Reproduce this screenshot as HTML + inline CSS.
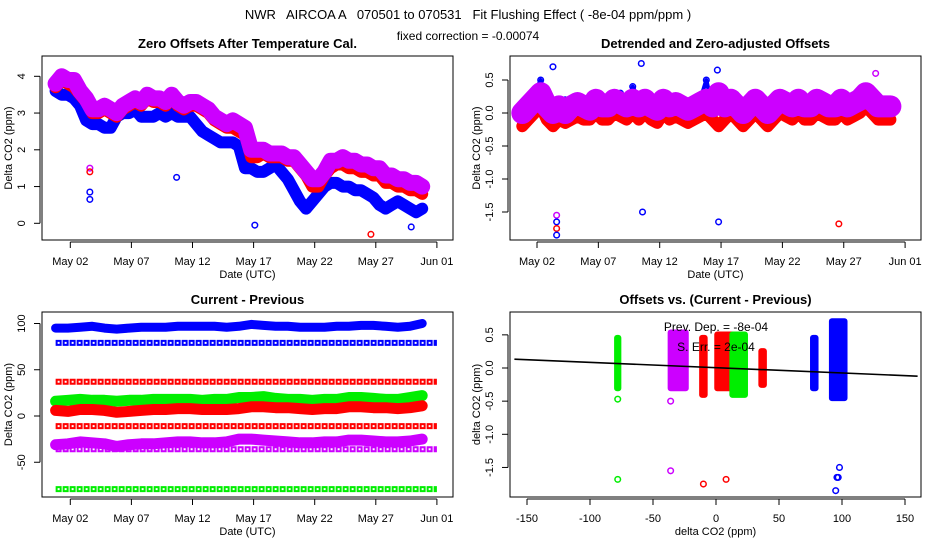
<!DOCTYPE html>
<html><head><meta charset="utf-8">
<style>
html,body{margin:0;padding:0;background:#fff;}
svg{display:block;font-family:"Liberation Sans",sans-serif;}
</style></head>
<body>
<svg id="c" width="936" height="540" viewBox="0 0 936 540" xmlns="http://www.w3.org/2000/svg">
<text x="468" y="19" text-anchor="middle" font-size="13" xml:space="preserve">NWR   AIRCOA A   070501 to 070531   Fit Flushing Effect ( -8e-04 ppm/ppm )</text>
<text x="468" y="40" text-anchor="middle" font-size="12">fixed correction = -0.00074</text>
</svg>
<script>
// ---------- data (t = days since May 1 00:00 UTC, half-day steps) ----------
const dateTicks = [1,6,11,16,21,26,31];
const dateLabels = ["May 02","May 07","May 12","May 17","May 22","May 27","Jun 01"];

// Panel 1: zero offsets after temperature cal.
const p1Purple = [3.8,4.0,3.9,3.9,3.6,3.4,3.1,3.1,3.2,3.1,3.0,3.2,3.3,3.4,3.3,3.5,3.4,3.4,3.3,3.5,3.3,3.2,3.3,3.3,3.2,3.1,2.9,2.8,2.7,2.8,2.7,2.6,2.0,2.0,2.0,1.9,1.9,1.9,1.8,1.8,1.6,1.4,1.2,1.2,1.4,1.7,1.7,1.8,1.7,1.7,1.6,1.6,1.5,1.5,1.3,1.3,1.2,1.2,1.1,1.1,1.0];
const p1Red = [3.7,3.9,3.8,3.7,3.5,3.3,3.0,3.0,3.1,3.0,2.9,3.1,3.2,3.3,3.2,3.4,3.3,3.3,3.2,3.4,3.2,3.1,3.2,3.2,3.1,3.0,2.8,2.7,2.6,2.6,2.5,2.4,1.8,1.8,1.9,1.8,1.8,1.8,1.7,1.7,1.5,1.3,1.0,1.0,1.3,1.5,1.6,1.6,1.5,1.5,1.4,1.4,1.3,1.3,1.1,1.1,1.0,1.0,0.9,0.9,0.8];
const p1Blue = [3.6,3.5,3.5,3.4,3.2,2.8,2.7,2.7,2.6,2.6,2.9,3.0,3.0,3.1,2.9,2.9,2.9,3.0,2.9,3.0,2.9,2.9,2.9,2.7,2.5,2.4,2.3,2.2,2.2,2.2,2.1,1.5,1.5,1.4,1.4,1.5,1.6,1.4,1.2,0.9,0.6,0.4,0.6,0.8,1.0,1.1,1.1,1.0,1.0,0.9,0.9,0.8,0.7,0.5,0.4,0.5,0.6,0.5,0.4,0.3,0.4];
const p1OutT = [2.6,2.6,2.6,2.6,9.7,16.1,25.6,28.9];
const p1OutV = [1.5,1.4,0.85,0.65,1.25,-0.05,-0.3,-0.1];
const p1OutC = ["#cc00ff","red","blue","blue","blue","blue","red","blue"];

// Panel 2: detrended and zero-adjusted offsets
const p2Purple = [0.0,0.1,0.2,0.3,0.1,0.0,0.1,0.0,0.1,0.15,0.1,0.05,0.2,0.1,0.1,0.2,0.15,0.1,0.2,0.1,0.2,0.1,0.05,0.2,0.1,0.15,0.1,0.05,0.1,0.15,0.2,0.1,0.3,0.1,0.2,0.1,0.0,0.1,0.2,0.1,0.0,0.1,0.2,0.15,0.1,0.2,0.1,0.1,0.2,0.15,0.1,0.1,0.2,0.1,0.15,0.2,0.3,0.2,0.1,0.1,0.1];
const p2Red = [-0.2,-0.1,0.0,0.1,-0.1,-0.2,-0.1,-0.15,-0.1,-0.05,-0.1,-0.1,0.0,-0.1,-0.1,0.0,-0.05,-0.1,0.0,-0.1,0.0,-0.1,-0.15,0.0,-0.1,-0.05,-0.1,-0.15,-0.1,-0.05,0.0,-0.1,-0.2,-0.1,0.0,-0.1,-0.2,-0.1,0.0,-0.1,-0.2,-0.1,0.0,-0.05,-0.1,0.0,-0.1,-0.1,0.0,-0.05,-0.1,-0.1,0.0,-0.1,-0.05,0.0,0.1,0.0,-0.1,-0.1,-0.1];
const p2Blue = [0.1,0.0,0.3,0.5,0.2,-0.1,0.1,0.2,0.0,0.1,0.2,0.0,0.3,0.1,0.0,0.2,0.3,0.0,0.4,0.2,0.3,0.1,0.0,0.3,0.1,0.2,0.0,-0.1,0.1,0.2,0.5,0.1,0.3,0.0,0.2,0.1,-0.1,0.2,0.3,0.0,-0.1,0.1,0.3,0.2,0.1,0.3,0.0,0.1,0.3,0.2,0.0,0.1,0.3,0.1,0.2,0.3,0.4,0.3,0.0,0.1,0.0];
const p2OutT = [2.6,2.6,2.6,2.6,9.6,15.8,25.6,2.3,9.5,15.7,28.6];
const p2OutV = [-1.55,-1.65,-1.75,-1.85,-1.5,-1.65,-1.68,0.7,0.75,0.65,0.6];
const p2OutC = ["#cc00ff","blue","red","blue","blue","blue","red","blue","blue","blue","#cc00ff"];

// Panel 3: current - previous (ppm), daily levels
const p3Blue = [95,95,96,97,95,94,95,96,96,96,97,97,97,97,96,97,99,98,97,97,96,96,96,97,97,98,98,97,96,97,100];
const p3Green = [16,17,18,17,17,16,17,17,18,18,18,18,17,18,18,20,20,21,19,18,18,17,18,18,20,20,19,18,18,20,22];
const p3Red = [6,5,7,7,6,4,5,6,7,7,8,8,7,7,7,8,10,10,9,9,8,7,8,8,10,10,9,9,8,9,11];
const p3Purple = [-31,-30,-28,-29,-30,-33,-31,-30,-30,-29,-28,-28,-29,-29,-28,-25,-25,-26,-27,-28,-29,-29,-28,-28,-26,-26,-27,-28,-28,-27,-25];
const p3Rows = [79,37,-11,-36,-79];
const p3RowStart = [-0.2,-0.2,-0.2,-0.2,-0.2];
const p3RowColor = ["blue","red","red","#cc00ff","#00ee00"];

// Panel 4: offsets vs (current - previous)
const p4ClusterX = [-78,-30,-10,7,18,37,78,97];
const p4ClusterLo = [-0.35,-0.35,-0.45,-0.35,-0.45,-0.3,-0.35,-0.5];
const p4ClusterHi = [0.5,0.58,0.5,0.55,0.55,0.3,0.5,0.75];
const p4ClusterW = [1,12,2,12,10,2,2,10];
const p4ClusterColor = ["#00ee00","#cc00ff","red","red","#00ee00","red","blue","blue"];
const p4OutX = [-78,-36,-36,-10,8,95,96,97,98,-78];
const p4OutV = [-1.68,-1.55,-0.5,-1.75,-1.68,-1.85,-1.65,-1.65,-1.5,-0.47];
const p4OutC = ["#00ee00","#cc00ff","#cc00ff","red","red","blue","blue","blue","blue","#00ee00"];
const fitSlope = -0.0008;
const fitIntercept = 0.005;

// ---------- drawing ----------
const svg = document.getElementById('c');
const NS = 'http://www.w3.org/2000/svg';
function mk(tag, attrs, parent){const e=document.createElementNS(NS,tag);for(const k in attrs)e.setAttribute(k,attrs[k]);(parent||svg).appendChild(e);return e;}

function panel(name, L,R,T,B, title, yTicks, yLabels, yFn, xTicks, xLabels, xFn, xTitle, yTitle){
  const g = mk('g',{});
  
  
  const t = mk('text',{x:(L+R)/2,y:T-8,'text-anchor':'middle','font-size':13,'font-weight':'bold'},g);
  t.textContent = title;
  
  
  const box = mk('rect',{x:L,y:T,width:R-L,height:B-T,fill:'none',stroke:'#000','stroke-width':1},g);
  
  
  const xa = mk('g',{},g);
  
  
  mk('line',{x1:xFn(xTicks[0]),x2:xFn(xTicks[xTicks.length-1]),y1:B+2,y2:B+2,stroke:'#000'},xa);
  xTicks.forEach((v,i)=>{
    const x=xFn(v);
    mk('line',{x1:x,x2:x,y1:B+2,y2:B+8,stroke:'#000'},xa);
    const l=mk('text',{x:x,y:B+25,'text-anchor':'middle','font-size':11},xa);
    l.textContent=xLabels[i];
    
    
  });
  const xt=mk('text',{x:(L+R)/2,y:B+38,'text-anchor':'middle','font-size':11},xa);
  xt.textContent=xTitle;
  
  
  const ya = mk('g',{},g);
  
  
  mk('line',{x1:L-2,x2:L-2,y1:yFn(yTicks[0]),y2:yFn(yTicks[yTicks.length-1]),stroke:'#000'},ya);
  yTicks.forEach((v,i)=>{
    const y=yFn(v);
    mk('line',{x1:L-8,x2:L-2,y1:y,y2:y,stroke:'#000'},ya);
    const l=mk('text',{x:L-17,y:y,'text-anchor':'middle','font-size':11,transform:`rotate(-90 ${L-17} ${y})`},ya);
    l.textContent=yLabels[i];
    
    
  });
  const yt=mk('text',{x:L-30,y:(T+B)/2,'text-anchor':'middle','font-size':11,transform:`rotate(-90 ${L-30} ${(T+B)/2})`},ya);
  yt.textContent=yTitle;
  
  
  const plot = mk('g',{},g);
  
  
  return plot;
}

function band(parent, arr, step, t0, xFn, yFn, color, width, name){
  const pts = arr.map((v,i)=>xFn(t0+i*step).toFixed(1)+','+yFn(v).toFixed(1)).join(' ');
  const pl = mk('polyline',{points:pts,fill:'none',stroke:color,'stroke-width':width,'stroke-linejoin':'round','stroke-linecap':'round'},parent);
  
  
  arr.forEach((v,i)=>{
    const c = mk('circle',{cx:xFn(t0+i*step),cy:yFn(v),r:2.8,fill:'none',stroke:color,'stroke-width':1.5},parent);
    
    
  });
}
function pts(parent, xs, vs, cs, xFn, yFn){
  xs.forEach((x,i)=>{
    const c = mk('circle',{cx:xFn(x),cy:yFn(vs[i]),r:2.8,fill:'none',stroke:cs[i],'stroke-width':1.5},parent);
    
    
  });
}

// Panel 1
const x1 = t => 70.3 + (t-1)*12.22;
const y1 = v => 223.3 - v*36.75;
const g1 = panel('zero-offsets-panel',42,453,56,240,'Zero Offsets After Temperature Cal.',[0,1,2,3,4],['0','1','2','3','4'],y1,dateTicks,dateLabels,x1,'Date (UTC)','Delta CO2 (ppm)');
band(g1,p1Blue,0.5,-0.2,x1,y1,'blue',12,'p1-blue');
band(g1,p1Red,0.5,-0.2,x1,y1,'red',12,'p1-red');
band(g1,p1Purple,0.5,-0.2,x1,y1,'#cc00ff',16,'p1-purple');
pts(g1,p1OutT,p1OutV,p1OutC,x1,y1);

// Panel 2
const x2 = t => 537 + (t-1)*12.27;
const y2 = v => 113 - v*66;
const g2 = panel('detrended-panel',510,921,56,240,'Detrended and Zero-adjusted Offsets',[-1.5,-1.0,-0.5,0.0,0.5],['-1.5','-1.0','-0.5','0.0','0.5'],y2,dateTicks,dateLabels,x2,'Date (UTC)','Delta CO2 (ppm)');
band(g2,p2Blue,0.5,-0.2,x2,y2,'blue',4,'p2-blue');
band(g2,p2Red,0.5,-0.2,x2,y2,'red',12,'p2-red');
band(g2,p2Purple,0.5,-0.2,x2,y2,'#cc00ff',22,'p2-purple');
pts(g2,p2OutT,p2OutV,p2OutC,x2,y2);

// Panel 3
const y3 = v => 416 - v*0.925;
const g3 = panel('current-minus-previous-panel',42,453,312,497,'Current - Previous',[-50,0,50,100],['-50','0','50','100'],y3,dateTicks,dateLabels,x1,'Date (UTC)','Delta CO2 (ppm)');
p3Rows.forEach((v,i)=>{
  const l = mk('line',{x1:x1(p3RowStart[i]),x2:x1(31),y1:y3(v),y2:y3(v),stroke:p3RowColor[i],'stroke-width':6,'stroke-dasharray':'6 1'},g3);
  
  
  const l2 = mk('line',{x1:x1(p3RowStart[i])+2,x2:x1(31)-2,y1:y3(v),y2:y3(v),stroke:'#fff','stroke-width':2,'stroke-dasharray':'2 5'},g3);
  
  
});
band(g3,p3Blue,1,-0.2,x1,y3,'blue',9,'p3-blue');
band(g3,p3Green,1,-0.2,x1,y3,'#00ee00',11,'p3-green');
band(g3,p3Red,1,-0.2,x1,y3,'red',11,'p3-red');
band(g3,p3Purple,1,-0.2,x1,y3,'#cc00ff',11,'p3-purple');

// Panel 4
const x4 = v => 716 + v*1.26;
const y4 = v => 368 - v*66.3;
const g4 = panel('offsets-vs-difference-panel',510,921,312,497,'Offsets vs. (Current - Previous)',[-1.5,-1.0,-0.5,0.0,0.5],['-1.5','-1.0','-0.5','0.0','0.5'],y4,[-150,-100,-50,0,50,100,150],['-150','-100','-50','0','50','100','150'],x4,'delta CO2 (ppm)','delta CO2 (ppm)');
p4ClusterX.forEach((v,i)=>{
  const w = p4ClusterW[i]*1.26+6;
  const r = mk('rect',{x:x4(v)-w/2,y:y4(p4ClusterHi[i]),width:w,height:y4(p4ClusterLo[i])-y4(p4ClusterHi[i]),rx:3,fill:p4ClusterColor[i]},g4);
  
  
});
pts(g4,p4OutX,p4OutV,p4OutC,x4,y4);
const fit = mk('line',{x1:x4(-160),y1:y4(fitIntercept+fitSlope*-160),x2:x4(160),y2:y4(fitIntercept+fitSlope*160),stroke:'#000','stroke-width':1.6},g4);


const a1 = mk('text',{x:716,y:331,'text-anchor':'middle','font-size':12},g4);
a1.textContent='Prev. Dep. =  -8e-04';


const a2 = mk('text',{x:716,y:351,'text-anchor':'middle','font-size':12},g4);
a2.textContent='S. Err. =  2e-04';


</script>
</body></html>
